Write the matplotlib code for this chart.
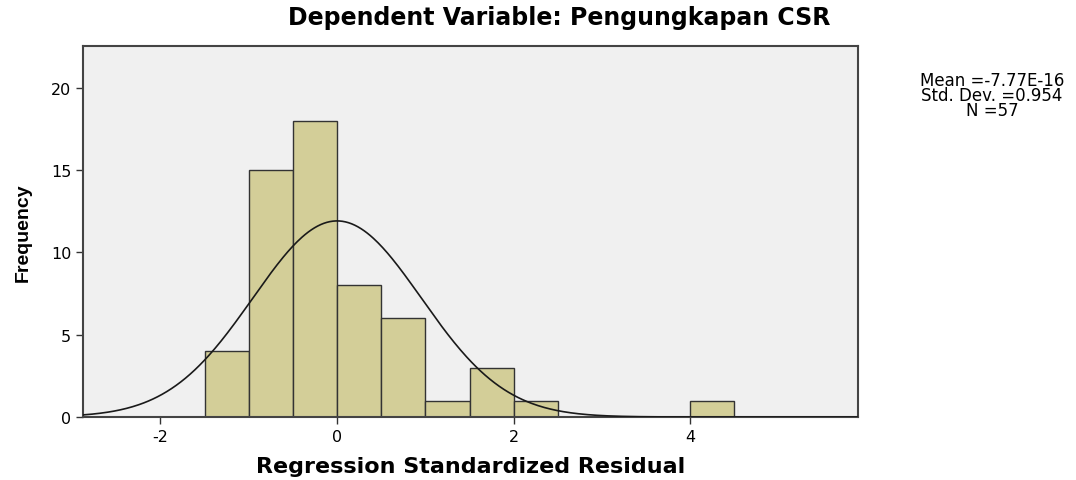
import numpy as np
import matplotlib
matplotlib.use("Agg")
import matplotlib.pyplot as plt

# Data
bin_left = [-1.5, -1.0, -0.5, 0.0, 0.5, 1.0, 1.5, 2.0, 4.0]
counts = [4, 15, 18, 8, 6, 1, 3, 1, 1]
bin_width = 0.5
mean = -7.77e-16
std = 0.954
n = 57
xticks = [-2, 0, 2, 4]
yticks = [0, 5, 10, 15, 20]

plt.rcParams['font.family'] = ['DejaVu Sans']

fig = plt.figure(figsize=(10.76, 4.81), dpi=100)
ax = fig.add_axes([0.0771, 0.131, 0.7203, 0.7713])
ax.set_facecolor('#F0F0F0')

ax.bar(bin_left, counts, width=bin_width, align='edge', color='#D3CE98',
       edgecolor='#333333', linewidth=1.0, zorder=2)

xs = np.linspace(-2.878, 5.9, 500)
ys = n * bin_width / (std * np.sqrt(2 * np.pi)) * np.exp(-0.5 * ((xs - mean) / std) ** 2)
ax.plot(xs, ys, color='#1a1a1a', linewidth=1.2, zorder=3)

ax.set_xlim(-2.878, 5.9)
ax.set_ylim(0, 22.55)
ax.set_xticks(xticks)
ax.set_xticklabels([str(t) for t in xticks])
ax.set_yticks(yticks)
ax.set_yticklabels([str(t) for t in yticks])
ax.tick_params(direction='out', length=5, width=1, colors='#333333', labelsize=11.5,
               labelcolor='black')
for s in ax.spines.values():
    s.set_color('#444444')
    s.set_linewidth(1.5)

ax.set_xlabel('Regression Standardized Residual', fontsize=16, fontweight='bold', labelpad=9)
ax.set_ylabel('Frequency', fontsize=14, fontweight='bold', labelpad=14,
              family=['Liberation Sans', 'DejaVu Sans'])

fig.text(0.52, 0.962, 'Dependent Variable: Pengungkapan CSR', ha='center', va='center',
         fontsize=17, fontweight='bold')

fig.text(0.922, 0.8, 'Mean =-7.77E-16\nStd. Dev. =0.954\nN =57', ha='center', va='center',
         fontsize=12, linespacing=0.8)

fig.savefig('out.png', dpi=100)
